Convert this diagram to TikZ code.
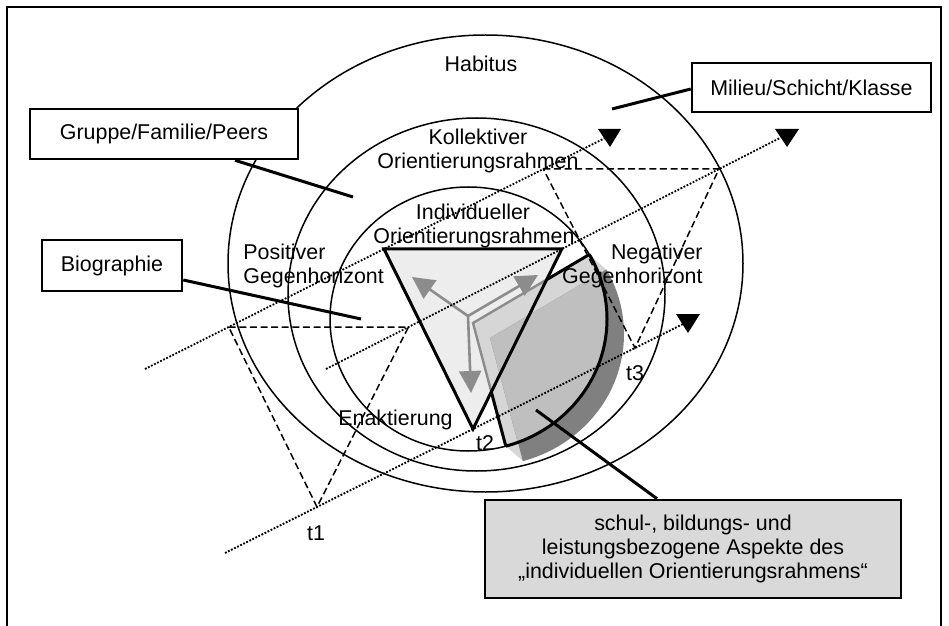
\documentclass[tikz,border=0pt]{standalone}
\usepackage{fontspec}
\setmainfont{Liberation Sans}
\usetikzlibrary{arrows.meta}
\definecolor{trifill}{HTML}{EDEDED}
\definecolor{lightfill}{HTML}{D6D6D6}
\definecolor{midfill}{HTML}{BFBFBF}
\definecolor{darkfill}{HTML}{808080}
\definecolor{arrowgray}{HTML}{8C8C8C}
\definecolor{boxgray}{HTML}{D9D9D9}
\begin{document}
\begin{tikzpicture}[x=0.5pt,y=-0.5pt,
  font=\fontsize{10.7}{12}\selectfont,
  thinline/.style={line width=0.75pt},
  thickline/.style={line width=1.5pt, line join=miter},
  conn/.style={line width=1.5pt},
  box/.style={draw, line width=1.3pt, fill=white, inner sep=0pt},
  dotline/.style={line width=0.9pt, dash pattern=on 0.9pt off 0.8pt},
  dashline/.style={line width=0.75pt, dash pattern=on 3.5pt off 1.8pt},
  grayarrow/.style={draw=arrowgray, line width=1.3pt, -{Triangle[length=11pt,width=11pt]}},
  lbl/.style={inner sep=0pt, anchor=base}
]
\useasboundingbox (0,0) rectangle (949,626);

% frame
\draw[line width=1pt] (7,626) -- (7,7) -- (941,7) -- (941,626);

% ellipses
\draw[thinline] (485.5,263.5) ellipse [x radius=257.5, y radius=228.5];
\draw[thinline] (476.5,294.5) ellipse [x radius=188.5, y radius=176.5];
\draw[thinline] (468.5,319) ellipse [x radius=138.5, y radius=132];

% key coordinates
\coordinate (t2a) at (384,249);
\coordinate (t2b) at (561.8,249);
\coordinate (t2c) at (473,429);
\coordinate (C) at (473,323);
\coordinate (Cs) at (490,338);
\coordinate (P1) at (589.3,254.5);
\coordinate (P1s) at (606.3,269.5);
\coordinate (P2) at (505.8,446.1);
\coordinate (P2s) at (522.8,461.1);
\coordinate (X1) at (546.7,279.6);
\coordinate (X2) at (491.3,391.8);

% triangle t2 fill
\fill[trifill] (t2a) -- (t2b) -- (t2c) -- cycle;

% sector: light layer
\begin{scope}
  \clip (473,323) -- (809,125) -- (905,485) -- (569,683) -- cycle;
  \fill[lightfill] (468.5,319) ellipse [x radius=138.5, y radius=132];
\end{scope}
\fill[lightfill] (C) -- (P1) -- (P1s) -- (Cs) -- cycle;
\fill[lightfill] (C) -- (P2) -- (P2s) -- (Cs) -- cycle;
% sector: dark shifted layer
\begin{scope}[shift={(17,15)}]
  \clip (473,323) -- (809,125) -- (905,485) -- (569,683) -- cycle;
  \fill[darkfill] (468.5,319) ellipse [x radius=138.5, y radius=132];
\end{scope}
% sector: medium layer (shifted sector inside inner ellipse)
\begin{scope}
  \clip (468.5,319) ellipse [x radius=138.5, y radius=132];
  \begin{scope}[shift={(17,15)}]
    \clip (473,323) -- (809,125) -- (905,485) -- (569,683) -- cycle;
    \fill[midfill] (468.5,319) ellipse [x radius=138.5, y radius=132];
  \end{scope}
\end{scope}

% gray sector edges inside triangle and gray arrows
\draw[draw=arrowgray, line width=1.2pt] (X1) -- (C) -- (X2);
\coordinate (Y0) at (468,316);
\coordinate (Ya) at (412,277);
\coordinate (Yb) at (538,275);
\coordinate (Yc) at (471,393);
\draw[grayarrow] (Y0) -- (Ya);
\draw[grayarrow] (Y0) -- (Yb);
\draw[grayarrow] (Y0) -- (Yc);

% triangle t2 outline
\draw[thickline] (t2a) -- (t2b) -- (t2c) -- cycle;
% sector black outline
\begin{scope}
  \clip (473,323) -- (809,125) -- (905,485) -- (569,683) -- cycle;
  \draw[thickline] (468.5,319) ellipse [x radius=138.5, y radius=132];
\end{scope}
\draw[thickline] (X1) -- (P1);
\draw[thickline] (X2) -- (P2);

% dashed triangles t1, t3
\draw[dashline] (228.7,327) coordinate (t1a) -- (408.5,327) coordinate (t1b) -- (317,507) coordinate (t1c) -- cycle;
\draw[dashline] (543.3,169) coordinate (t3a) -- (719,169) coordinate (t3b) -- (635,348) coordinate (t3c) -- cycle;

% dotted time lines with heads
\coordinate (l1s) at (145,369); \coordinate (l1e) at (605,138);
\coordinate (l2s) at (326,369); \coordinate (l2e) at (780,138);
\coordinate (l3s) at (225,553); \coordinate (l3e) at (687,322);
\draw[dotline] (l1s) -- (l1e);
\draw[dotline] (l2s) -- (l2e);
\draw[dotline] (l3s) -- (l3e);
\fill (598,129) -- (621,129) -- (610,147) -- cycle;
\fill (775,129) -- (799,129) -- (787,147) -- cycle;
\fill (676,314) -- (700,314) -- (688,333) -- cycle;

% boxes
\node[box, minimum width=134pt, minimum height=25pt] (gruppe) at (164,134) {Gruppe/Familie/Peers};
\node[box, minimum width=70pt, minimum height=25.5pt] (bio) at (112,265.5) {Biographie};
\node[box, minimum width=119.5pt, minimum height=24.5pt] (milieu) at (811.5,87.5) {Milieu/Schicht/Klasse};
\node[box, fill=boxgray, minimum width=208pt, minimum height=49pt, align=center] (schul) at (693,549)
  {schul-, bildungs- und\\leistungsbezogene Aspekte des\\„individuellen Orientierungsrahmens“};

% connectors
\coordinate (gE) at (353,197);
\coordinate (bE) at (361,319);
\coordinate (mE) at (612,109);
\coordinate (sE) at (536,410);
\draw[conn] ([xshift=35.5pt]gruppe.south) -- (gE);
\draw[conn] ([yshift=-7.25pt]bio.east) -- (bE);
\draw[conn] ([yshift=-0.75pt]milieu.west) -- (mE);
\draw[conn] ([xshift=-18pt]schul.north) -- (sE);

% labels
\node[lbl] (habitus) at (481,72) {Habitus};
\node[lbl] (koll1) at (478,145) {Kollektiver};
\node[lbl] (koll2) at (478,169) {Orientierungsrahmen};
\node[lbl] (ind1) at (473,220) {Individueller};
\node[lbl] (ind2) at (474,243) {Orientierungsrahmen};
\node[lbl, anchor=base west] (pos1) at (243,260) {Positiver};
\node[lbl, anchor=base west] (pos2) at (243,284) {Gegenhorizont};
\node[lbl, anchor=base east] (neg1) at (703,260) {Negativer};
\node[lbl, anchor=base east] (neg2) at (703,284) {Gegenhorizont};
\node[lbl, anchor=base west] (enak) at (338,425) {Enaktierung};
\node[lbl] (lt1) at (316,540) {t1};
\node[lbl] (lt2) at (485,450) {t2};
\node[lbl] (lt3) at (635,380) {t3};
\end{tikzpicture}
\end{document}
